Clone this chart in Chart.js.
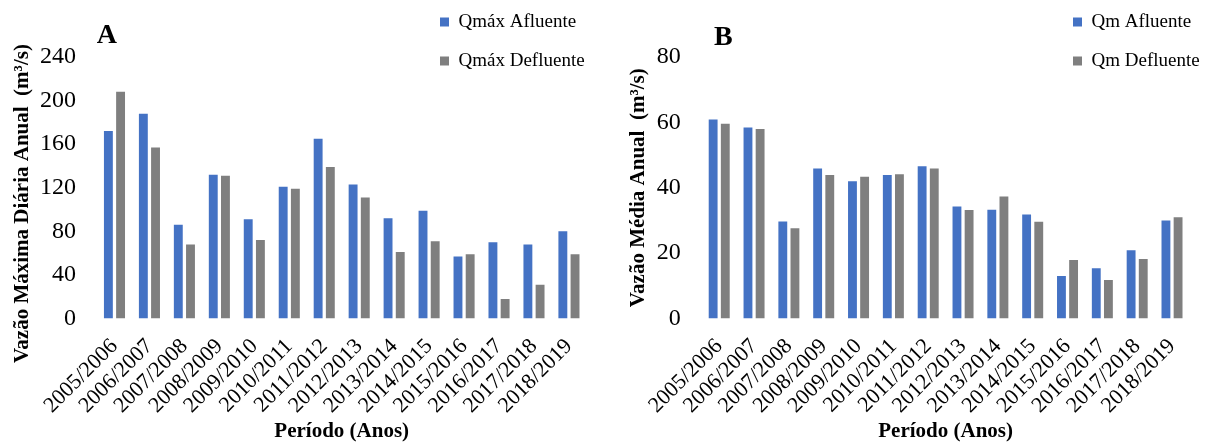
<!DOCTYPE html>
<html>
<head>
<meta charset="utf-8">
<script src="https://cdn.jsdelivr.net/npm/chart.js@4.4.1/dist/chart.umd.min.js"></script>
<style>
  html, body { margin: 0; padding: 0; background: #ffffff; }
  #wrap { position: relative; width: 1206px; height: 444px; overflow: hidden; }
  .panel { position: absolute; top: 0; width: 603px; height: 444px; }
  #panelA { left: 0; }
  #panelB { left: 603px; }
</style>
</head>
<body>
<div id="wrap">
  <div class="panel" id="panelA"><canvas id="chartA" width="603" height="444"></canvas></div>
  <div class="panel" id="panelB"><canvas id="chartB" width="603" height="444"></canvas></div>
</div>
<script>
// ---- data ----
const categories = ['2005/2006', '2006/2007', '2007/2008', '2008/2009', '2009/2010', '2010/2011', '2011/2012',
                    '2012/2013', '2013/2014', '2014/2015', '2015/2016', '2016/2017', '2017/2018', '2018/2019'];
const qmaxAfluente  = [172, 188, 86, 132, 91, 121, 165, 123, 92, 99, 57, 70, 68, 80];
const qmaxDefluente = [208, 157, 68, 131, 72, 119, 139, 111, 61, 71, 59, 18, 31, 59];
const qmAfluente    = [60.9, 58.4, 29.7, 45.9, 42.0, 43.9, 46.6, 34.3, 33.3, 31.8, 13.0, 15.4, 20.9, 30.0];
const qmDefluente   = [59.6, 58.0, 27.6, 43.9, 43.4, 44.1, 45.9, 33.2, 37.3, 29.6, 17.9, 11.8, 18.2, 31.0];
const seriesNamesA = ['Qmáx Afluente', 'Qmáx Defluente'];
const seriesNamesB = ['Qm Afluente', 'Qm Defluente'];
const yTitleA = 'Vazão Máxima Diária Anual  (m³/s)';
const yTitleB = 'Vazão Média Anual  (m³/s)';
const xTitle = 'Período (Anos)';

// ---- styling ----
const FONT = '"Liberation Serif", "Times New Roman", serif';
const BLUE = '#4472C4';
const GRAY = '#7F7F7F';

// place the vertical legend at a fixed spot (top right, above the plot)
const placeLegend = {
  id: 'placeLegend',
  afterLayout(chart, args, o) {
    const lg = chart.legend;
    if (!lg) return;
    const pad = lg.options.labels.padding;
    lg.left = o.x - pad;
    lg.top = o.y - pad;
    lg.right = chart.width;
    lg.bottom = chart.height;
    lg.width = lg.right - lg.left;
    lg.height = lg.bottom - lg.top;
  }
};

// panel letter (A / B)
const panelLabel = {
  id: 'panelLabel',
  afterDraw(chart, args, o) {
    const ctx = chart.ctx;
    ctx.save();
    ctx.font = 'bold 28px ' + FONT;
    ctx.fillStyle = '#000';
    ctx.textAlign = 'left';
    ctx.textBaseline = 'alphabetic';
    ctx.fillText(o.text, o.x, o.y);
    ctx.restore();
  }
};

function build(id, c) {
  return new Chart(document.getElementById(id), {
    type: 'bar',
    data: {
      labels: categories,
      datasets: [
        { label: c.names[0], data: c.series[0], backgroundColor: BLUE,
          categoryPercentage: 0.697, barPercentage: 0.73 },
        { label: c.names[1], data: c.series[1], backgroundColor: GRAY,
          categoryPercentage: 0.697, barPercentage: 0.73 }
      ]
    },
    options: {
      responsive: false,
      animation: false,
      layout: { padding: { left: 0, right: c.padRight, top: 57, bottom: 0 } },
      plugins: {
        legend: {
          position: 'chartArea', align: 'start',
          labels: { boxWidth: 9, boxHeight: 9, padding: 20, color: '#000',
                    font: { family: FONT, size: 19 } }
        },
        tooltip: { enabled: false },
        placeLegend: { x: c.legendX, y: 12.5 },
        panelLabel: { text: c.letter, x: c.letterX, y: c.letterY }
      },
      scales: {
        x: {
          grid: { display: false, drawTicks: false },
          border: { display: false },
          ticks: { autoSkip: false, maxRotation: 45, minRotation: 45, padding: 15,
                   color: '#000', font: { family: FONT, size: 22 } },
          title: { display: true, text: xTitle, color: '#000',
                   font: { family: FONT, size: 21, weight: 'bold' },
                   padding: { top: 0, bottom: 0 } },
          afterFit: s => { s.height = 125.5; }
        },
        y: {
          min: 0, max: c.max,
          grid: { display: false, drawTicks: false },
          border: { display: false },
          ticks: { stepSize: c.step, padding: 21, color: '#000',
                   font: { family: FONT, size: 24 } },
          title: { display: true, text: c.yTitle, color: '#000',
                   font: { family: FONT, size: 21, weight: 'bold' },
                   padding: { top: c.titlePad, bottom: 0 } },
          afterFit: s => { s.width = c.yWidth; }
        }
      }
    },
    plugins: [placeLegend, panelLabel]
  });
}

build('chartA', {
  names: seriesNamesA, series: [qmaxAfluente, qmaxDefluente],
  max: 240, step: 40, yTitle: yTitleA + '      ', titlePad: 10,
  yWidth: 97, padRight: 10.8, legendX: 440, letter: 'A', letterX: 96.7, letterY: 43.3
});
build('chartB', {
  names: seriesNamesB, series: [qmAfluente, qmDefluente],
  max: 80, step: 20, yTitle: yTitleB, titlePad: 23.4,
  yWidth: 98.8, padRight: 9, legendX: 470, letter: 'B', letterX: 111, letterY: 45
});
</script>
</body>
</html>
